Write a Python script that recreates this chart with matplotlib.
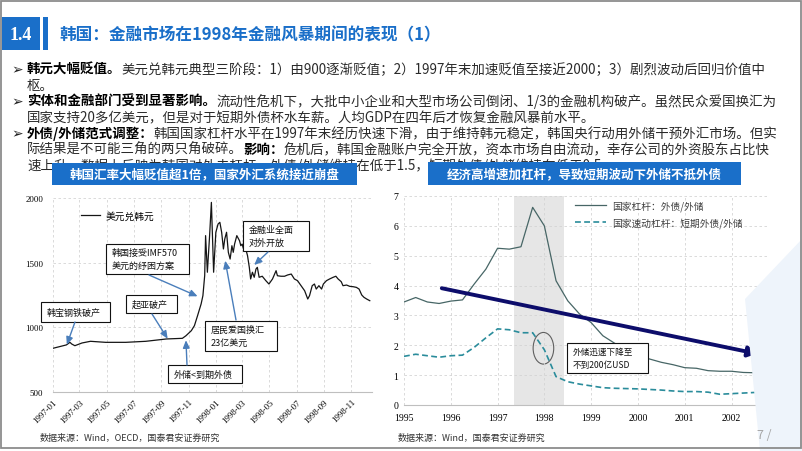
import matplotlib
matplotlib.use('Agg')
import matplotlib.pyplot as plt
import matplotlib.dates as mdates
from matplotlib.patches import Rectangle, Ellipse, Polygon
import pandas as pd
import numpy as np

plt.rcParams['font.family'] = ['Noto Sans CJK SC', 'DejaVu Sans']

# ---------------- data ----------------
fx_dates = ["1997-01-01", "1997-01-31", "1997-02-08", "1997-02-12", "1997-02-19", "1997-03-07",
            "1997-03-26", "1997-04-29", "1997-06-13", "1997-07-28", "1997-09-12", "1997-10-18",
            "1997-10-26", "1997-11-07", "1997-11-14", "1997-11-21", "1997-11-29", "1997-12-03",
            "1997-12-07", "1997-12-09", "1997-12-13", "1997-12-18", "1997-12-22", "1997-12-27",
            "1998-01-01", "1998-01-06", "1998-01-10", "1998-01-14", "1998-01-18", "1998-01-21",
            "1998-01-25", "1998-01-29", "1998-02-02", "1998-02-06", "1998-02-09", "1998-02-12",
            "1998-02-17", "1998-02-23", "1998-02-26", "1998-03-01", "1998-03-05", "1998-03-09",
            "1998-03-13", "1998-03-17", "1998-03-20", "1998-03-24", "1998-03-28", "1998-04-01",
            "1998-04-04", "1998-04-08", "1998-04-15", "1998-04-23", "1998-04-30", "1998-05-08",
            "1998-05-16", "1998-05-19", "1998-05-27", "1998-06-04", "1998-06-11", "1998-06-19",
            "1998-06-26", "1998-07-03", "1998-07-11", "1998-07-19", "1998-07-26", "1998-07-30",
            "1998-08-05", "1998-08-10", "1998-08-14", "1998-08-20", "1998-08-26", "1998-08-30",
            "1998-09-06", "1998-09-13", "1998-09-21", "1998-09-27", "1998-10-02", "1998-10-09",
            "1998-10-13", "1998-10-21", "1998-10-28", "1998-11-05", "1998-11-12", "1998-11-18",
            "1998-11-24", "1998-11-29", "1998-12-05", "1998-12-12"]
fx_values = [838, 864, 884, 871, 858, 879,
             892, 884, 884, 892, 910, 915,
             935, 974, 1013, 1090, 1181, 1245,
             1400, 1709, 1426, 1709, 1966, 1426,
             1735, 1799, 1812, 1735, 1606, 1683,
             1735, 1580, 1528, 1631, 1580, 1644,
             1709, 1670, 1631, 1644, 1593, 1606,
             1554, 1464, 1374, 1426, 1387, 1451,
             1464, 1387, 1395, 1361, 1335, 1374,
             1438, 1399, 1395, 1395, 1405, 1412,
             1374, 1361, 1322, 1283, 1219, 1245,
             1322, 1335, 1296, 1322, 1296, 1335,
             1361, 1374, 1387, 1395, 1374, 1353,
             1322, 1327, 1317, 1314, 1309, 1296,
             1250, 1232, 1219, 1206]
fx_tick_labels = ["1997-01", "1997-03", "1997-05", "1997-07", "1997-09", "1997-11",
                  "1998-01", "1998-03", "1998-05", "1998-07", "1998-09", "1998-11"]

quarters = [f"{y}Q{q}" for y in range(1995, 2003) for q in range(1, 5)]
debt_to_reserve = [3.45, 3.60, 3.45, 3.40, 3.48, 3.52, 4.05, 4.55,
                   5.25, 5.22, 5.30, 6.62, 6.00, 4.16, 3.49, 3.05,
                   2.76, 2.32, 2.07, 1.85, 1.65, 1.54, 1.43, 1.35,
                   1.25, 1.23, 1.15, 1.13, 1.13, 1.09, 1.08, 1.08]
short_debt_to_reserve = [1.63, 1.70, 1.65, 1.60, 1.65, 1.67, 1.93, 2.25,
                         2.55, 2.52, 2.42, 2.42, 1.85, 0.95, 0.78, 0.70,
                         0.64, 0.58, 0.56, 0.55, 0.54, 0.52, 0.50, 0.47,
                         0.45, 0.45, 0.43, 0.36, 0.38, 0.40, 0.42, 0.40]
year_ticks = [1995, 1996, 1997, 1998, 1999, 2000, 2001, 2002]

# ---------------- figure ----------------
W, H = 802, 452
fig = plt.figure(figsize=(W / 100, H / 100), dpi=100)
fig.patch.set_facecolor('white')


def rect(x0, y0, x1, y1):
    return [x0 / W, 1 - y1 / H, (x1 - x0) / W, (y1 - y0) / H]


BLUE = '#1a6fc9'
GRID = '#d4d4d4'
SERIF = ['Liberation Serif', 'DejaVu Serif']

# ---- left chart ----
axL = fig.add_axes(rect(53, 199, 372, 393))
dts = pd.to_datetime(fx_dates)
axL.plot(dts, fx_values, color='#151515', lw=0.9, label='美元兑韩元')
axL.set_ylim(500, 2000)
axL.set_xlim(pd.Timestamp('1997-01-01'), pd.Timestamp('1998-12-17'))
axL.set_yticks([500, 1000, 1500, 2000])
axL.set_yticklabels(['500', '1000', '1500', '2000'], fontsize=6.3, family=SERIF)
axL.set_xticks(pd.to_datetime([t + '-01' for t in fx_tick_labels]))
axL.set_xticklabels(fx_tick_labels, rotation=45, ha='right', rotation_mode='anchor',
                    fontsize=6.3, family=SERIF)
axL.grid(True, color=GRID, ls=(0, (3, 3)), lw=0.6)
for s in ['top', 'right', 'left']:
    axL.spines[s].set_visible(False)
axL.spines['bottom'].set_color('#bfbfbf')
axL.tick_params(axis='y', length=0, pad=7)
axL.tick_params(axis='x', length=0, pad=4)
axL.legend(loc='upper left', bbox_to_anchor=(0.06, 0.98), frameon=False, fontsize=7,
           handlelength=2.0, handletextpad=0.5)

# ---- right chart ----
axR = fig.add_axes(rect(404, 197, 768, 406))
xq = [int(q[:4]) + (int(q[-1]) - 1) / 4 for q in quarters]
axR.axvspan(1997.35, 1998.41, color='#e6e6e6', lw=0, zorder=0)
axR.plot(xq, debt_to_reserve, color='#476666', lw=0.9, label='国家杠杆：外债/外储')
axR.plot(xq, short_debt_to_reserve, color='#2a8c9b', lw=1.2, ls=(0, (3.5, 2)),
         label='国家速动杠杆：短期外债/外储')
axR.set_xlim(1995, 2002.78)
axR.set_ylim(0, 7)
axR.set_xticks(year_ticks)
axR.set_xticklabels([str(y) for y in year_ticks], fontsize=7, family=SERIF)
axR.set_yticks(range(0, 8))
axR.set_yticklabels([str(i) for i in range(8)], fontsize=7, family=SERIF)
axR.grid(True, color=GRID, ls=(0, (3, 3)), lw=0.6)
for s in ['top', 'right', 'left']:
    axR.spines[s].set_visible(False)
axR.spines['bottom'].set_color('#bfbfbf')
axR.tick_params(axis='y', length=0, pad=4)
axR.tick_params(axis='x', length=0, pad=6)
axR.legend(loc='upper left', bbox_to_anchor=(0.445, 1.02), frameon=False, fontsize=7,
           handlelength=3.2, handletextpad=0.6, labelspacing=0.6, labelcolor='#404040')
axR.annotate('', xy=(2002.6, 1.7), xytext=(1995.75, 3.93),
             arrowprops=dict(arrowstyle='-|>,head_length=0.5,head_width=0.3',
                             color='#0d0d6b', lw=2.8))
axR.add_patch(Ellipse((1997.98, 1.9), 0.44, 1.06, fill=False, edgecolor='#606060', lw=0.8))

# ---- overlay (pixel coordinates) ----
ov = fig.add_axes([0, 0, 1, 1], zorder=10)
ov.set_xlim(0, W)
ov.set_ylim(H, 0)
ov.axis('off')
ov.patch.set_alpha(0)

# decorative faint shape
ov.add_patch(Polygon([[760, 452], [802, 452], [802, 240], [745, 300]], closed=True,
                     facecolor='#eef4fb', edgecolor='none', zorder=0))
# slide frame
ov.add_patch(Rectangle((0.5, 1.5), W - 1.5, 447.5, fill=False, edgecolor='#8c8c8c', lw=1.3))

# header
ov.add_patch(Rectangle((2, 18), 38, 33, facecolor=BLUE, edgecolor='none'))
ov.text(21, 35, '1.4', color='white', fontsize=13, fontweight='bold', ha='center', va='center',
        family=SERIF)
ov.add_patch(Rectangle((43, 18), 5, 33, facecolor=BLUE, edgecolor='none'))
ov.text(59, 35, '韩国：金融市场在1998年金融风暴期间的表现（1）', color=BLUE, fontsize=12,
        fontweight='bold', ha='left', va='center')

# body text
FS = 9.7


def seg_line(x, y, segments):
    prev = None
    for txt, bold in segments:
        kw = dict(fontsize=FS, fontweight='bold' if bold else 'normal',
                  color='#000000' if bold else '#2a2a2a', va='center', ha='left')
        if prev is None:
            prev = ov.text(x, y, txt, **kw)
        else:
            prev = ov.annotate(txt, xy=(1, 0.5), xycoords=prev, **kw)


lines = [
    (70, True, [('韩元大幅贬值。', True),
                ('美元兑韩元典型三阶段：1）由900逐渐贬值；2）1997年末加速贬值至接近2000；3）剧烈波动后回归价值中', False)]),
    (86, False, [('枢。', False)]),
    (102, True, [('实体和金融部门受到显著影响。', True),
                 ('流动性危机下，大批中小企业和大型市场公司倒闭、1/3的金融机构破产。虽然民众爱国换汇为', False)]),
    (118, False, [('国家支持20多亿美元，但是对于短期外债杯水车薪。人均GDP在四年后才恢复金融风暴前水平。', False)]),
    (134, True, [('外债/外储范式调整：', True),
                 ('韩国国家杠杆水平在1997年末经历快速下滑，由于维持韩元稳定，韩国央行动用外储干预外汇市场。但实', False)]),
    (150, False, [('际结果是不可能三角的两只角破碎。', False), ('影响：', True),
                  ('危机后，韩国金融账户完全开放，资本市场自由流动，幸存公司的外资股东占比快', False)]),
    (166, False, [('速上升，数据上反映为韩国对外去杠杆，外债/外储维持在低于1.5，短期外债/外储维持在低于0.5。', False)]),
]
for y, bullet, segs in lines:
    if bullet:
        ov.text(11, y, '➢', fontsize=10, color='#222222', ha='left', va='center',
                family=['DejaVu Sans'])
    seg_line(27, y, segs)

# banners
ov.add_patch(Rectangle((52, 164), 305, 22, facecolor=BLUE, edgecolor='none', zorder=5))
ov.text(204, 175, '韩国汇率大幅贬值超1倍，国家外汇系统接近崩盘', color='white', fontsize=9,
        fontweight='bold', ha='center', va='center', zorder=6)
ov.add_patch(Rectangle((428, 163), 313, 23, facecolor=BLUE, edgecolor='none', zorder=5))
ov.text(584, 175, '经济高增速加杠杆，导致短期波动下外储不抵外债', color='white', fontsize=9,
        fontweight='bold', ha='center', va='center', zorder=6)

# left annotations: (text, box x0,y0,x1,y1, arrow tail px, arrow head data)
ARROW = '#4a7ebb'
notes = [
    ('韩宝钢铁破产', (41, 303, 110, 323), (75, 323), ('1997-02-01', 866)),
    ('起亚破产', (126, 296, 177, 314), (152, 315), ('1997-09-15', 912)),
    ('韩国接受IMF570\n美元的纾困方案', (106, 245, 189, 275), (149, 276), ('1997-11-21', 1240)),
    ('外储<到期外债', (168, 366, 242, 384), (187, 366), ('1997-10-26', 900)),
    ('居民爱国换汇\n23亿美元', (205, 322, 277, 352), (236, 321), ('1998-01-22', 1515)),
    ('金融业全面\n对外开放', (243, 222, 309, 252), (268, 253), ('1998-03-28', 1482)),
]
for txt, (x0, y0, x1, y1), tail, (hd, hv) in notes:
    ov.add_patch(Rectangle((x0, y0), x1 - x0, y1 - y0, facecolor='white', edgecolor='#111111',
                           lw=0.8, zorder=3))
    ov.text(x0 + 6, (y0 + y1) / 2, txt, fontsize=6.5, ha='left', va='center', color='#111111',
            linespacing=1.5, zorder=4)
    ov.annotate('', xy=(mdates.date2num(pd.Timestamp(hd)), hv), xycoords=axL.transData,
                xytext=tail, textcoords='data',
                arrowprops=dict(arrowstyle='-|>,head_length=0.45,head_width=0.2', color=ARROW,
                                lw=1.0, shrinkA=0, shrinkB=0), zorder=4)

# right box
ov.add_patch(Rectangle((567, 344), 81, 30, facecolor='white', edgecolor='#111111', lw=0.8,
                       zorder=3))
ov.text(573, 359, '外储迅速下降至\n不到200亿USD', fontsize=6.2, ha='left', va='center',
        color='#111111', linespacing=1.5, zorder=4)

# footers
ov.text(40, 438, '数据来源：Wind，OECD，国泰君安证券研究', fontsize=6.5, color='#333333',
        ha='left', va='center')
ov.text(398, 438, '数据来源：Wind，国泰君安证券研究', fontsize=6.5, color='#333333',
        ha='left', va='center')
ov.text(764, 436, '7 /', fontsize=9, color='#a6a6a6', ha='center', va='center')

fig.savefig('out.png', dpi=100)
